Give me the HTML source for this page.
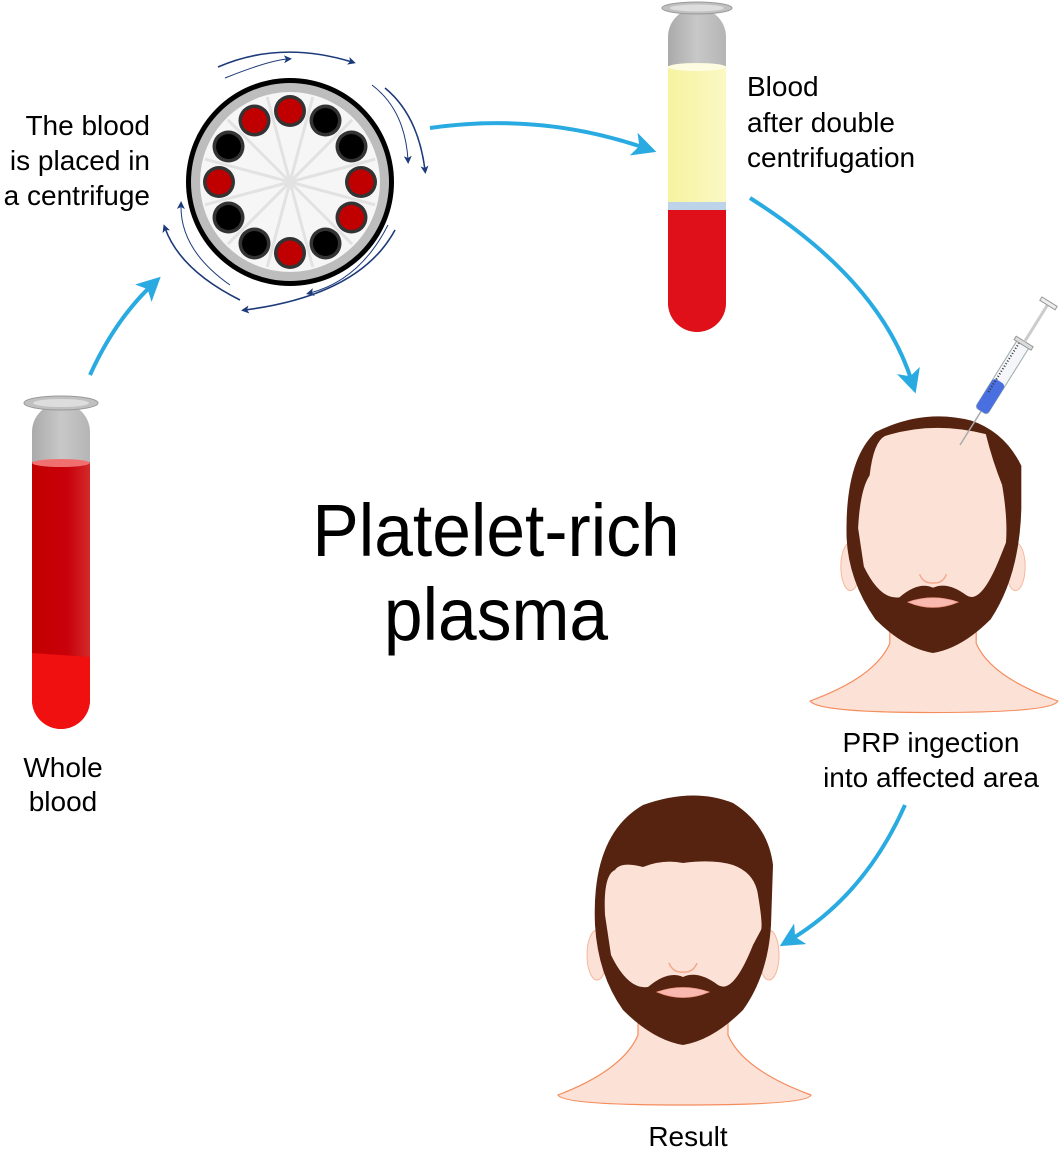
<!DOCTYPE html>
<html><head><meta charset="utf-8"><style>
html,body{margin:0;padding:0;background:#fff;}
svg{display:block;}
text{font-family:"Liberation Sans",sans-serif;fill:#000;}
</style></head><body>
<svg width="1059" height="1149" viewBox="0 0 1059 1149" xmlns="http://www.w3.org/2000/svg">
<defs>
<marker id="ah" markerWidth="6" markerHeight="6" refX="3" refY="3" orient="auto" markerUnits="strokeWidth"><path d="M0,0 L6,3 L0,6 L1.5,3 Z" fill="#29abe2"/></marker>
<marker id="nh" markerWidth="8" markerHeight="8" refX="4" refY="4" orient="auto" markerUnits="userSpaceOnUse"><path d="M0,0 L8,4 L0,8 L2,4 Z" fill="#1d3a7a"/></marker>
<linearGradient id="glass" x1="0" x2="1"><stop offset="0" stop-color="#aaa"/><stop offset="0.5" stop-color="#c8c8c8"/><stop offset="1" stop-color="#b5b5b5"/></linearGradient>
<linearGradient id="red1" x1="0" x2="1"><stop offset="0" stop-color="#c20000"/><stop offset="0.6" stop-color="#c8000a"/><stop offset="1" stop-color="#d22a2a"/></linearGradient>
<linearGradient id="yel" x1="0" x2="1"><stop offset="0" stop-color="#f6f3a0"/><stop offset="1" stop-color="#fbf8c4"/></linearGradient>
</defs>

<g>
<rect x="32" y="403" width="58" height="325" rx="29" fill="url(#glass)"/>
<path d="M32,462 L90,462 L90,700 A29,29 0 0 1 32,700 Z" fill="url(#red1)"/>
<path d="M32,653 L90,657 L90,700 A29,29 0 0 1 32,700 Z" fill="#f01010"/>
<ellipse cx="61" cy="463" rx="29" ry="4" fill="#f07070"/>
<ellipse cx="61" cy="403" rx="37" ry="7" fill="#c0c0c0" stroke="#999"/>
<ellipse cx="61" cy="403" rx="28" ry="4" fill="#ddd"/>
</g>

<g>
<rect x="668" y="8" width="58" height="324" rx="29" fill="url(#glass)"/>
<rect x="668" y="66" width="58" height="136" fill="url(#yel)"/>
<ellipse cx="697" cy="67" rx="29" ry="4" fill="#fdfce0"/>
<rect x="668" y="202" width="58" height="8" fill="#bcd3ea"/>
<path d="M668,210 L726,210 L726,303 A29,29 0 0 1 668,303 Z" fill="#e0101a"/>
<ellipse cx="697" cy="8" rx="35" ry="6" fill="#c0c0c0" stroke="#999"/>
<ellipse cx="697" cy="8" rx="27" ry="3.5" fill="#ddd"/>
</g>

<g>
<circle cx="290" cy="182" r="104" fill="#000"/>
<circle cx="290" cy="182" r="99" fill="#bdbdbd"/>
<circle cx="290" cy="182" r="90" fill="#f6f6f6"/>
<g id="spokes" stroke="#e2e2e2" stroke-width="3"></g>
<g id="slots"></g>
<g fill="none" stroke="#1d3a7a" stroke-width="1.6">
<path d="M218,67 Q280,40 352,62" marker-end="url(#nh)"/>
<path d="M225,78 Q270,60 288,59" stroke-width="1" marker-end="url(#nh)"/>
<path d="M385,88 Q418,115 425,170" marker-end="url(#nh)"/>
<path d="M372,85 Q405,110 408,160" stroke-width="1" marker-end="url(#nh)"/>
<path d="M395,230 Q360,295 245,310" marker-end="url(#nh)"/>
<path d="M388,225 Q360,280 310,293" stroke-width="1" marker-end="url(#nh)"/>
<path d="M240,300 Q180,270 165,228" marker-end="url(#nh)"/>
<path d="M230,285 Q180,250 181,205" stroke-width="1" marker-end="url(#nh)"/>
</g>
</g>

<g fill="none" stroke="#29abe2" stroke-width="4">
<path d="M90,375 Q115,320 152,285" marker-end="url(#ah)"/>
<path d="M430,128 Q540,112 645,148" marker-end="url(#ah)"/>
<path d="M750,198 Q880,280 912,382" marker-end="url(#ah)"/>
<path d="M905,805 Q865,895 790,940" marker-end="url(#ah)"/>
</g>

<!-- Head 1 (bald) -->
<g transform="translate(933,413) scale(0.96)">
<path d="M-45,200 L-45,240 Q-60,275 -128,300 Q-120,312 0,312 Q125,312 130,300 Q60,275 45,240 L45,200 Z" fill="#fce1d6" stroke="#f58c5c" stroke-width="1.2"/>
<ellipse cx="-86" cy="160" rx="10" ry="25" fill="#fce1d6" stroke="#f5b79c"/>
<ellipse cx="86" cy="160" rx="10" ry="25" fill="#fce1d6" stroke="#f5b79c"/>
<path d="M-90,130 Q-92,50 -60,20 Q-10,-5 40,8 Q75,20 92,55 L92,100 Q90,170 60,215 Q30,245 0,250 Q-30,245 -60,215 Q-88,175 -90,130 Z" fill="#55230f"/>
<path d="M-78,120 Q-76,80 -66,65 Q-62,30 -50,24 Q0,8 55,22 Q62,50 72,75 Q78,110 76,135 L70,150 Q50,200 35,190 Q15,175 0,182 Q-15,175 -35,192 Q-55,195 -72,160 Z" fill="#fce1d6"/>
<path d="M-26,197 Q0,188 26,197 Q0,208 -26,197 Z" fill="#f9b9b0" stroke="#f59c8a" stroke-width="0.8"/>
<path d="M-14,168 Q-10,178 0,177 Q10,178 14,168" fill="none" stroke="#f5a78c" stroke-width="1.5"/>
</g>

<g transform="translate(960,445) rotate(-58)">
<line x1="0" y1="0" x2="40" y2="0" stroke="#aaa" stroke-width="1.5"/>
<rect x="40" y="-7" width="80" height="14" rx="3" fill="#f4f6fa" stroke="#9aa"/>
<rect x="40" y="-7" width="35" height="14" rx="4" fill="#4a6fe0"/>
<line x1="60" y1="-4" x2="118" y2="-4" stroke="#333" stroke-width="2" stroke-dasharray="1 2"/>
<rect x="118" y="-10" width="4" height="20" fill="#ddd" stroke="#999"/>
<line x1="122" y1="0" x2="165" y2="0" stroke="#ccc" stroke-width="3"/>
<rect x="165" y="-9" width="4" height="18" fill="#eee" stroke="#999"/>
</g>

<!-- Head 2 (result) -->
<g transform="translate(683,795)">
<path d="M-45,200 L-45,240 Q-60,275 -125,300 Q-120,310 0,310 Q125,310 128,300 Q60,275 45,240 L45,200 Z" fill="#fce1d6" stroke="#f58c5c" stroke-width="1.2"/>
<ellipse cx="-86" cy="160" rx="10" ry="25" fill="#fce1d6" stroke="#f5b79c"/>
<ellipse cx="86" cy="160" rx="10" ry="25" fill="#fce1d6" stroke="#f5b79c"/>
<path d="M-88,130 Q-92,40 -40,10 Q10,-8 50,8 Q85,30 90,70 L88,130 Q85,180 60,215 Q30,245 0,250 Q-30,245 -60,215 Q-85,180 -88,130 Z" fill="#55230f"/>
<path d="M-78,120 Q-80,80 -68,75 Q-62,66 -40,72 Q-20,64 0,68 Q30,64 50,70 Q72,78 75,100 Q80,130 78,135 L70,150 Q50,200 35,190 Q15,175 0,182 Q-15,175 -35,192 Q-55,195 -72,160 Z" fill="#fce1d6"/>
<path d="M-26,197 Q0,188 26,197 Q0,208 -26,197 Z" fill="#f9b9b0" stroke="#f59c8a" stroke-width="0.8"/>
<path d="M-14,168 Q-10,178 0,177 Q10,178 14,168" fill="none" stroke="#f5a78c" stroke-width="1.5"/>
</g>

<g font-size="28">
<text x="150" y="135" text-anchor="end">The blood</text>
<text x="150" y="170" text-anchor="end">is placed in</text>
<text x="150" y="205" text-anchor="end">a centrifuge</text>
<text x="747" y="96">Blood</text>
<text x="747" y="132">after double</text>
<text x="747" y="167">centrifugation</text>
<text x="63" y="777" text-anchor="middle">Whole</text>
<text x="63" y="811" text-anchor="middle">blood</text>
<text x="931" y="752" text-anchor="middle">PRP ingection</text>
<text x="931" y="787" text-anchor="middle">into affected area</text>
<text x="688" y="1146" text-anchor="middle">Result</text>
</g>
<g transform="translate(496,0) scale(0.94,1)">
<text x="0" y="556" text-anchor="middle" font-size="74">Platelet-rich</text>
<text x="0" y="640" text-anchor="middle" font-size="74">plasma</text>
</g>
</svg>
<script>
const slotColors = ['red','black','black','red','red','black','red','black','black','red','black','red'];
const ns='http://www.w3.org/2000/svg';
const cx=290, cy=182, R=71;
const sp=document.getElementById('spokes'), sl=document.getElementById('slots');
for(let i=0;i<12;i++){
  const a=(i*30-90)*Math.PI/180, b=(i*30-75)*Math.PI/180;
  const l=document.createElementNS(ns,'line');
  l.setAttribute('x1',cx);l.setAttribute('y1',cy);
  l.setAttribute('x2',cx+88*Math.cos(b));l.setAttribute('y2',cy+88*Math.sin(b));
  sp.appendChild(l);
  const x=cx+R*Math.cos(a), y=cy+R*Math.sin(a);
  const c=document.createElementNS(ns,'circle');
  
  
  c.setAttribute('cx',x);c.setAttribute('cy',y);c.setAttribute('r',16);
  c.setAttribute('fill','#333');sl.appendChild(c);
  const d=document.createElementNS(ns,'circle');
  d.setAttribute('cx',x);d.setAttribute('cy',y);d.setAttribute('r',12.5);
  d.setAttribute('fill',slotColors[i]==='red'?'#c00000':'#000');sl.appendChild(d);
}
</script>
</body></html>
